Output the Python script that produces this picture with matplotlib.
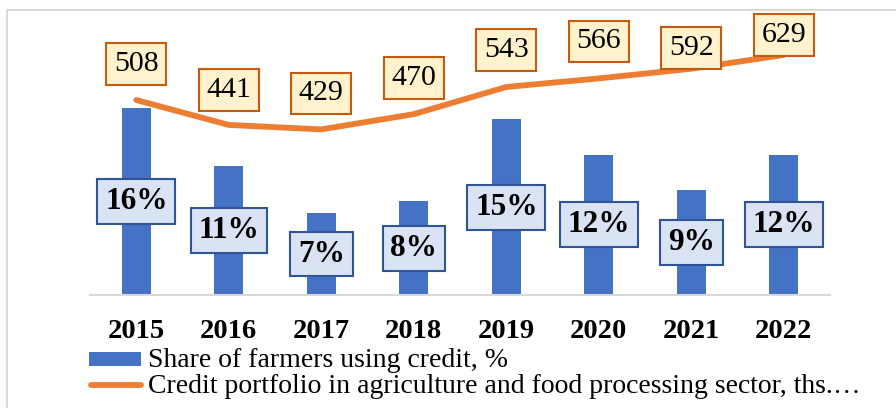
import matplotlib
matplotlib.use("Agg")
import matplotlib.pyplot as plt
from matplotlib.patches import Rectangle
from matplotlib.lines import Line2D

years = ["2015", "2016", "2017", "2018", "2019", "2020", "2021", "2022"]
share_pct = [16, 11, 7, 8, 15, 12, 9, 12]
portfolio = [508, 441, 429, 470, 543, 566, 592, 629]
legend_labels = ["Share of farmers using credit, %",
                 "Credit portfolio in agriculture and food processing sector, ths.\u2026"]

W, H = 896, 408
plt.rcParams['font.family'] = ['Liberation Serif', 'DejaVu Serif']

fig = plt.figure(figsize=(W / 100, H / 100), dpi=100)

def fx(px):
    return px / W

def fy(py):
    return 1 - py / H

ax_left, ax_right, ax_top, ax_bottom = 90, 830, 20, 295
ax = fig.add_axes([fx(ax_left), fy(ax_bottom), fx(ax_right - ax_left), (ax_bottom - ax_top) / H])
ax2 = ax.twinx()

x = list(range(len(years)))
bar_color = "#4472C4"
line_color = "#ED7D31"

ax.bar(x, share_pct, width=0.31, color=bar_color, zorder=2)
ax.set_xlim(-0.5, len(years) - 0.5)
ax.set_ylim(0, 23.5)

for xi, v in zip(x, share_pct):
    ax.text(xi, v / 2, f"{v}%", ha="center", va="center", fontsize=22.5, fontweight="bold",
            color="black", zorder=5,
            bbox=dict(boxstyle="square,pad=0.25", fc="#DAE3F3", ec="#2F5597", lw=1.5))

ax2.plot(x, portfolio, color=line_color, lw=4.2, solid_capstyle="round", zorder=3)
ax2.set_ylim(-16, 723)

offsets = [36, 35, 36, 36, 37, 37, 21, 20]
for xi, v, off in zip(x, portfolio, offsets):
    ax2.annotate(f"{v}", (xi, v), xytext=(0, off), textcoords="offset pixels",
                 ha="center", va="center", fontsize=21.5, color="black", zorder=6,
                 bbox=dict(boxstyle="square,pad=0.26", fc="#FFF2CC", ec="#C55A11", lw=1.5))

for a in (ax, ax2):
    for s in a.spines.values():
        s.set_visible(False)
    a.set_yticks([])
ax.spines["bottom"].set_visible(True)
ax.spines["bottom"].set_color("#D9D9D9")
ax.spines["bottom"].set_linewidth(1.5)

ax.set_xticks(x)
ax.set_xticklabels(years, fontsize=20.5, fontweight="bold")
ax.tick_params(axis="x", length=0, pad=17)

# chart area border (top and left)
fig.add_artist(Line2D([fx(7), 1.0], [fy(10), fy(10)], color="#D9D9D9", lw=1.5))
fig.add_artist(Line2D([fx(7), fx(7)], [fy(10), 0.0], color="#D9D9D9", lw=1.5))

# legend
fig.add_artist(Rectangle((fx(89), fy(366)), fx(141) - fx(89), (366 - 352) / H,
                         facecolor=bar_color, edgecolor="none"))
fig.text(fx(148), fy(367), legend_labels[0], fontsize=20, va="baseline", ha="left")
fig.add_artist(Line2D([fx(91), fx(141)], [fy(385), fy(385)], color=line_color, lw=4.2,
                      solid_capstyle="round"))
fig.text(fx(148), fy(393), legend_labels[1], fontsize=20, va="baseline", ha="left")

fig.savefig("out.png", dpi=100)
